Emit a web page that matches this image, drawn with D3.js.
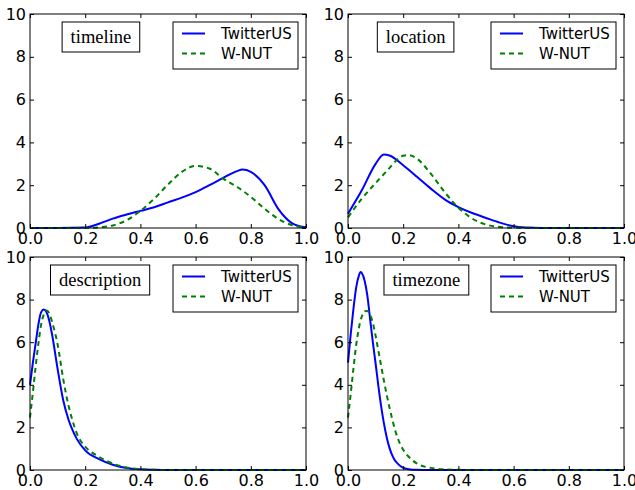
<!DOCTYPE html>
<html>
<head>
<meta charset="utf-8">
<script src="https://cdn.jsdelivr.net/npm/d3@7"></script>
<style>
  body { margin: 0; background: #fff; }
  svg { display: block; }
</style>
</head>
<body>
<script>
var w = 635;
var h = 490;

// values (density estimates)
var panelNames = ["timeline", "location", "description", "timezone"];
var seriesNames = ["TwitterUS", "W-NUT"];

var timelineX = [0, 0.1, 0.2, 0.25, 0.3, 0.35, 0.4, 0.45, 0.5, 0.55, 0.6, 0.65, 0.7, 0.75, 0.77, 0.8, 0.85, 0.9, 0.95, 1.0];
var timelineTwitter = [0, 0, 0.02, 0.2, 0.44, 0.63, 0.8, 0.97, 1.2, 1.42, 1.68, 2.0, 2.34, 2.66, 2.73, 2.62, 2.0, 0.88, 0.22, 0.03];
var timelineWnut = [0, 0, 0, 0.03, 0.12, 0.36, 0.8, 1.37, 2.03, 2.62, 2.9, 2.78, 2.31, 1.92, 1.75, 1.45, 0.9, 0.42, 0.13, 0.03];

var locationX = [0, 0.05, 0.1, 0.13, 0.15, 0.2, 0.22, 0.25, 0.3, 0.35, 0.4, 0.45, 0.5, 0.55, 0.6, 0.65, 0.7, 0.8, 1.0];
var locationTwitter = [0.67, 1.76, 3.0, 3.43, 3.39, 2.93, 2.72, 2.39, 1.84, 1.34, 0.98, 0.7, 0.47, 0.25, 0.08, 0.02, 0, 0, 0];
var locationWnut = [0.5, 1.37, 2.1, 2.52, 2.8, 3.38, 3.4, 3.24, 2.54, 1.68, 0.95, 0.44, 0.16, 0.05, 0.01, 0, 0, 0, 0];

var descriptionX = [0, 0.01, 0.02, 0.03, 0.04, 0.05, 0.06, 0.07, 0.08, 0.1, 0.12, 0.14, 0.15, 0.17, 0.2, 0.25, 0.3, 0.35, 0.4, 0.45, 0.5, 1.0];
var descriptionTwitter = [4.0, 5.0, 5.9, 6.8, 7.4, 7.53, 7.4, 7.0, 6.36, 4.75, 3.3, 2.35, 2.0, 1.45, 0.92, 0.51, 0.25, 0.09, 0.03, 0.01, 0, 0];
var descriptionWnut = [2.46, 3.6, 4.8, 5.9, 6.8, 7.3, 7.49, 7.35, 6.95, 5.9, 4.3, 3.0, 2.5, 1.7, 1.1, 0.62, 0.3, 0.12, 0.04, 0.01, 0, 0];

var timezoneX = [0, 0.01, 0.02, 0.03, 0.04, 0.045, 0.05, 0.06, 0.07, 0.08, 0.09, 0.1, 0.11, 0.12, 0.13, 0.14, 0.15, 0.16, 0.17, 0.18, 0.2, 0.22, 0.25, 0.3, 0.35, 0.4, 0.5, 1.0];
var timezoneTwitter = [5.04, 6.4, 7.6, 8.6, 9.15, 9.3, 9.25, 8.9, 8.2, 7.1, 6.0, 5.0, 3.95, 3.0, 2.2, 1.55, 1.05, 0.7, 0.45, 0.3, 0.1, 0.04, 0.01, 0, 0, 0, 0, 0];
var timezoneWnut = [2.46, 3.6, 4.8, 5.9, 6.7, 7.0, 7.2, 7.45, 7.46, 7.3, 6.9, 6.3, 5.6, 4.9, 4.2, 3.55, 2.95, 2.4, 1.9, 1.5, 0.95, 0.62, 0.3, 0.1, 0.03, 0.01, 0, 0];

var xTicks = [0, 0.2, 0.4, 0.6, 0.8, 1.0];
var yTicks = [0, 2, 4, 6, 8, 10];

var panelData = [
    [timelineX, timelineTwitter, timelineWnut],
    [locationX, locationTwitter, locationWnut],
    [descriptionX, descriptionTwitter, descriptionWnut],
    [timezoneX, timezoneTwitter, timezoneWnut]
];

// layout
var boxes = [
    {x0: 30, x1: 306, y0: 14, y1: 228},
    {x0: 348, x1: 624, y0: 14, y1: 228},
    {x0: 30, x1: 306, y0: 257, y1: 470},
    {x0: 348, x1: 624, y0: 257, y1: 470}
];
var titleCenter = [0.257, 0.245, 0.254, 0.284]; // axes fraction
var colors = ["#0000ff", "#008000"];
var dashes = [null, "5,4"];
var sans = "'DejaVu Sans', sans-serif";
var serif = "'Liberation Serif', 'Times New Roman', serif";

var svg = d3.select("body").append("svg")
    .attr("width", w)
    .attr("height", h);

for (var p = 0; p < boxes.length; p++) {
    var b = boxes[p];
    var x = d3.scaleLinear().domain([0, 1]).range([b.x0, b.x1]);
    var y = d3.scaleLinear().domain([0, 10]).range([b.y1, b.y0]);
    var g = svg.append("g");

    // curves
    var xs = panelData[p][0];
    for (var s = 0; s < 2; s++) {
        var ys = panelData[p][s + 1];
        var line = d3.line()
            .x(function(d, i) { return x(xs[i]); })
            .y(function(d) { return y(d); })
            .curve(d3.curveMonotoneX);
        g.append("path")
            .attr("d", line(ys))
            .attr("fill", "none")
            .attr("stroke", colors[s])
            .attr("stroke-width", 2)
            .attr("stroke-dasharray", dashes[s]);
    }

    // axes, ticks pointing inward on all four sides
    var axB = g.append("g").attr("transform", "translate(0," + b.y1 + ")")
        .call(d3.axisBottom(x).tickValues(xTicks).tickFormat(d3.format(".1f")).tickSize(-4).tickPadding(5));
    var axT = g.append("g").attr("transform", "translate(0," + b.y0 + ")")
        .call(d3.axisTop(x).tickValues(xTicks).tickFormat("").tickSize(-4));
    var axL = g.append("g").attr("transform", "translate(" + b.x0 + ",0)")
        .call(d3.axisLeft(y).tickValues(yTicks).tickFormat(d3.format("d")).tickSize(-4).tickPadding(4));
    var axR = g.append("g").attr("transform", "translate(" + b.x1 + ",0)")
        .call(d3.axisRight(y).tickValues(yTicks).tickFormat("").tickSize(-4));
    [axB, axT, axL, axR].forEach(function(a) {
        a.select(".domain").remove();
        a.selectAll("line").attr("stroke", "#000");
        a.selectAll("text").attr("fill", "#000")
            .style("font-family", sans).style("font-size", "16px");
    });

    g.append("rect")
        .attr("x", b.x0).attr("y", b.y0)
        .attr("width", b.x1 - b.x0).attr("height", b.y1 - b.y0)
        .attr("fill", "none").attr("stroke", "#000").attr("stroke-width", 1);

    // title box
    var tx = b.x0 + titleCenter[p] * (b.x1 - b.x0);
    var ty = b.y0 + 23;
    var tRect = g.append("rect");
    var tText = g.append("text")
        .attr("x", tx).attr("y", ty)
        .attr("text-anchor", "middle")
        .attr("dy", "0.32em")
        .style("font-family", serif)
        .style("font-size", "18.5px")
        .text(panelNames[p]);
    var tw = tText.node().getComputedTextLength();
    tRect.attr("x", tx - tw / 2 - 8.5).attr("y", ty - 15)
        .attr("width", tw + 17).attr("height", 30)
        .attr("fill", "#fff").attr("stroke", "#000").attr("stroke-width", 1);

    // legend
    var lw = 125, lh = 47;
    var lx = b.x1 - 8 - lw, ly = b.y0 + 8;
    var leg = g.append("g").attr("transform", "translate(" + lx + "," + ly + ")");
    leg.append("rect")
        .attr("width", lw).attr("height", lh)
        .attr("fill", "#fff").attr("stroke", "#000").attr("stroke-width", 1);
    for (var k = 0; k < seriesNames.length; k++) {
        var ry = 11.5 + k * 20;
        leg.append("line")
            .attr("x1", 9).attr("x2", 32).attr("y1", ry).attr("y2", ry)
            .attr("stroke", colors[k]).attr("stroke-width", 2)
            .attr("stroke-dasharray", dashes[k]);
        leg.append("text")
            .attr("x", 48).attr("y", ry).attr("dy", "0.35em")
            .style("font-family", sans).style("font-size", "15px")
            .text(seriesNames[k]);
    }
}
</script>
</body>
</html>
